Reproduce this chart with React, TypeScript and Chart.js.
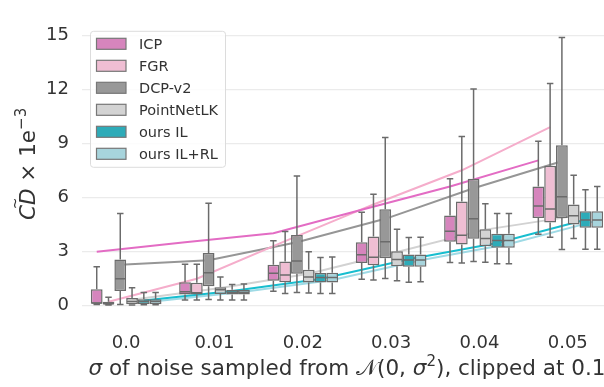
import React, { useEffect, useRef } from 'react';
import { Chart, registerables } from 'chart.js';

Chart.register(...registerables);

// ---------- data ----------
const GROUP_LABELS = ['0.0', '0.01', '0.02', '0.03', '0.04', '0.05'];
const METHODS = ['ICP', 'FGR', 'DCP-v2', 'PointNetLK', 'ours IL', 'ours IL+RL'];
const Y_TICKS = [0, 3, 6, 9, 12, 15];

// box stats per noise level: [whisker low, q1, median, q3, whisker high]
const ICP_BOX = [
  [0.03, 0.08, 0.12, 0.88, 2.13],
  [0.28, 0.59, 0.74, 1.27, 2.27],
  [0.77, 1.36, 1.77, 2.24, 3.58],
  [1.44, 2.34, 2.8, 3.49, 5.17],
  [2.37, 3.52, 4.11, 4.98, 7.03],
  [3.94, 4.84, 5.51, 6.6, 9.12],
];
const FGR_BOX = [
  [0.01, 0.03, 0.08, 0.19, 0.43],
  [0.28, 0.59, 0.69, 1.24, 2.27],
  [0.65, 1.27, 1.67, 2.42, 4.1],
  [1.39, 2.22, 2.66, 3.81, 6.17],
  [2.34, 3.37, 3.88, 5.77, 9.38],
  [3.78, 4.6, 5.34, 7.75, 12.33],
];
const DCP_BOX = [
  [0.04, 0.79, 1.46, 2.54, 5.1],
  [0.31, 1.05, 1.8, 2.9, 5.67],
  [0.7, 1.74, 2.46, 3.9, 7.18],
  [1.48, 2.6, 3.52, 5.33, 9.33],
  [2.42, 3.69, 4.81, 7.03, 12.02],
  [3.09, 4.84, 6.03, 8.9, 14.89],
];
const PNLK_BOX = [
  [0.01, 0.05, 0.2, 0.4, 0.96],
  [0.28, 0.62, 0.85, 1.0, 1.57],
  [0.67, 1.26, 1.57, 1.96, 2.97],
  [1.36, 2.16, 2.54, 2.99, 4.22],
  [2.39, 3.28, 3.71, 4.22, 5.64],
  [3.71, 4.48, 4.97, 5.6, 7.23],
];
const IL_BOX = [
  [0.02, 0.05, 0.2, 0.33, 0.7],
  [0.28, 0.59, 0.72, 0.86, 1.15],
  [0.65, 1.26, 1.53, 1.79, 2.65],
  [1.27, 2.13, 2.51, 2.82, 3.76],
  [2.3, 3.19, 3.59, 3.97, 5.1],
  [3.11, 4.31, 4.74, 5.22, 6.42],
];
const ILRL_BOX = [
  [0.02, 0.05, 0.2, 0.33, 0.7],
  [0.28, 0.59, 0.72, 0.86, 1.17],
  [0.65, 1.26, 1.53, 1.8, 2.68],
  [1.3, 2.13, 2.51, 2.82, 3.78],
  [2.3, 3.19, 3.59, 3.97, 5.1],
  [3.11, 4.31, 4.74, 5.22, 6.6],
];

// mean per noise level (trend lines)
const ICP_MEAN = [2.97, 3.5, 4.0, 5.3, 6.6, 8.05];
const FGR_MEAN = [0.19, 1.47, 3.56, 5.6, 7.5, 9.9];
const DCP_MEAN = [2.24, 2.5, 3.5, 4.8, 6.5, 8.0];
const PNLK_MEAN = [0.3, 0.95, 1.75, 2.95, 4.2, 4.95];
const IL_MEAN = [0.25, 0.78, 1.45, 2.55, 3.45, 4.75];
const ILRL_MEAN = [0.22, 0.74, 1.4, 2.5, 3.4, 4.7];

// ---------- styles ----------
const BOX_COLORS = ['#d685bd', '#efbed3', '#989898', '#d3d3d3', '#2eabb8', '#a7d4dc'];
const LINE_COLORS = ['#e36cc4', '#f5adcb', '#969696', '#d2d2d2', '#17becf', '#9edae5'];
const EDGE = '#6b6b6b';
const TEXT = '#333333';
const FONT = '"DejaVu Sans", sans-serif';
const TITLE_SIZE = 21.5;

type Seg = { t: string; italic?: boolean; sup?: boolean };

function drawRich(ctx: CanvasRenderingContext2D, segs: Seg[], cx: number, cy: number, size: number) {
  const fontOf = (s: Seg) => `${s.italic ? 'italic ' : ''}${s.sup ? size * 0.7 : size}px ${FONT}`;
  let total = 0;
  const widths = segs.map((s) => {
    ctx.font = fontOf(s);
    const w = ctx.measureText(s.t).width;
    total += w;
    return w;
  });
  let x = cx - total / 2;
  const base = cy + size * 0.36;
  ctx.textAlign = 'left';
  ctx.textBaseline = 'alphabetic';
  segs.forEach((s, i) => {
    ctx.font = fontOf(s);
    ctx.fillText(s.t, x, s.sup ? base - size * 0.42 : base);
    x += widths[i];
  });
  return { left: cx - total / 2, widths };
}

const titlesPlugin = {
  id: 'richTitles',
  afterDraw(chart: any) {
    const ctx: CanvasRenderingContext2D = chart.ctx;
    const xs = chart.scales.x;
    const ca = chart.chartArea;
    ctx.save();
    ctx.fillStyle = TEXT;
    drawRich(
      ctx,
      [
        { t: 'σ', italic: true },
        { t: ' of noise sampled from ' },
        { t: '𝒩' },
        { t: '(0, ' },
        { t: 'σ', italic: true },
        { t: '2', sup: true },
        { t: '), clipped at 0.1' },
      ],
      xs.getPixelForValue(2.5),
      367,
      TITLE_SIZE
    );
    ctx.translate(27, (ca.top + ca.bottom) / 2 - 9);
    ctx.rotate(-Math.PI / 2);
    const r = drawRich(
      ctx,
      [
        { t: 'C', italic: true },
        { t: 'D', italic: true },
        { t: ' × 1e' },
        { t: '−3', sup: true },
      ],
      0,
      0,
      TITLE_SIZE
    );
    const cdW = r.widths[0] + r.widths[1];
    ctx.font = `14px ${FONT}`;
    ctx.textAlign = 'center';
    ctx.fillText('~', r.left + cdW / 2 + 1, TITLE_SIZE * 0.36 - 15);
    ctx.restore();
  },
};

const legendPlugin = {
  id: 'boxLegend',
  afterDraw(chart: any) {
    const ctx: CanvasRenderingContext2D = chart.ctx;
    const ca = chart.chartArea;
    const bars = chart.data.datasets.filter((d: any) => d.type === 'bar');
    const x0 = ca.left + 8.5;
    const y0 = ca.top + 7.5;
    const w = 135;
    const rowH = 22;
    const h = bars.length * rowH + 4;
    ctx.save();
    ctx.beginPath();
    (ctx as any).roundRect(x0, y0, w, h, 3);
    ctx.fillStyle = 'rgba(255,255,255,0.85)';
    ctx.fill();
    ctx.strokeStyle = '#dcdcdc';
    ctx.lineWidth = 1;
    ctx.stroke();
    bars.forEach((d: any, i: number) => {
      const cy = y0 + 12.5 + i * rowH;
      ctx.fillStyle = d.backgroundColor;
      ctx.fillRect(x0 + 6, cy - 5.5, 29.5, 11);
      ctx.strokeStyle = '#777777';
      ctx.lineWidth = 1.2;
      ctx.strokeRect(x0 + 6, cy - 5.5, 29.5, 11);
      ctx.fillStyle = TEXT;
      ctx.font = `14.5px ${FONT}`;
      ctx.textAlign = 'left';
      ctx.textBaseline = 'middle';
      ctx.fillText(d.label, x0 + 48.5, cy + 1);
    });
    ctx.restore();
  },
};

const whiskerPlugin = {
  id: 'boxWhiskers',
  afterDatasetsDraw(chart: any) {
    const ctx: CanvasRenderingContext2D = chart.ctx;
    const ys = chart.scales.y;
    const ca = chart.chartArea;
    ctx.save();
    ctx.beginPath();
    ctx.rect(ca.left, ca.top, ca.right - ca.left, ca.bottom - ca.top);
    ctx.clip();
    ctx.strokeStyle = EDGE;
    ctx.lineWidth = 1.5;
    chart.data.datasets.forEach((ds: any, di: number) => {
      if (ds.type !== 'bar') return;
      const meta = chart.getDatasetMeta(di);
      meta.data.forEach((el: any, i: number) => {
        const { x, width } = el.getProps(['x', 'width'], true);
        const [lo, q1, med, q3, hi] = ds.boxStats[i];
        const cap = width * 0.55;
        const pLo = ys.getPixelForValue(lo);
        const pQ1 = ys.getPixelForValue(q1);
        const pMed = ys.getPixelForValue(med);
        const pQ3 = ys.getPixelForValue(q3);
        const pHi = ys.getPixelForValue(hi);
        ctx.beginPath();
        ctx.moveTo(x, pQ3);
        ctx.lineTo(x, pHi);
        ctx.moveTo(x - cap / 2, pHi);
        ctx.lineTo(x + cap / 2, pHi);
        ctx.moveTo(x, pQ1);
        ctx.lineTo(x, pLo);
        ctx.moveTo(x - cap / 2, pLo);
        ctx.lineTo(x + cap / 2, pLo);
        ctx.moveTo(x - width / 2 + 0.75, pMed);
        ctx.lineTo(x + width / 2 - 0.75, pMed);
        ctx.stroke();
      });
    });
    ctx.restore();
  },
};

export default function App() {
  const ref = useRef<HTMLCanvasElement>(null);

  useEffect(() => {
    if (!ref.current) return;
    const boxes = [ICP_BOX, FGR_BOX, DCP_BOX, PNLK_BOX, IL_BOX, ILRL_BOX];
    const means = [ICP_MEAN, FGR_MEAN, DCP_MEAN, PNLK_MEAN, IL_MEAN, ILRL_MEAN];
    const n = METHODS.length;
    const slot = 0.8 / n;

    const barSets = METHODS.map((m, k) => ({
      type: 'bar' as const,
      label: m,
      data: boxes[k].map((b, g) => ({ x: g, y: [b[1], b[3]] })),
      boxStats: boxes[k],
      backgroundColor: BOX_COLORS[k],
      borderColor: EDGE,
      borderWidth: 1.5,
      borderSkipped: false,
      barPercentage: 1,
      categoryPercentage: 0.8,
      order: 1,
    }));
    const lineSets = METHODS.map((m, k) => ({
      type: 'line' as const,
      label: m + ' mean',
      data: means[k].map((v, g) => ({ x: g + (k - (n - 1) / 2) * slot, y: v })),
      borderColor: LINE_COLORS[k],
      borderWidth: 2,
      pointRadius: 0,
      fill: false,
      tension: 0,
      order: 2,
    }));

    const chart = new Chart(ref.current, {
      type: 'bar',
      data: { datasets: [...barSets, ...lineSets] as any },
      options: {
        animation: false,
        responsive: false,
        devicePixelRatio: 1,
        layout: { padding: 0 },
        plugins: { legend: { display: false }, tooltip: { enabled: false } },
        scales: {
          x: {
            type: 'linear',
            offset: false,
            min: -0.5,
            max: 5.41,
            grid: { display: false, offset: false },
            border: { display: false },
            afterBuildTicks: (s: any) => {
              s.ticks = GROUP_LABELS.map((_, i) => ({ value: i }));
            },
            afterFit: (s: any) => {
              s.height = 65;
            },
            ticks: {
              color: TEXT,
              font: { family: FONT, size: 18 },
              padding: 3,
              maxRotation: 0,
              autoSkip: false,
              callback: (v: any) => GROUP_LABELS[Math.round(Number(v))] ?? '',
            },
          },
          y: {
            type: 'linear',
            min: -0.94,
            max: 15.65,
            grid: { color: '#ebebeb', lineWidth: 1.2, drawTicks: false },
            border: { display: false },
            afterBuildTicks: (s: any) => {
              s.ticks = Y_TICKS.map((v) => ({ value: v }));
            },
            afterFit: (s: any) => {
              s.width = 82;
            },
            ticks: {
              color: TEXT,
              font: { family: FONT, size: 18 },
              padding: 13,
            },
          },
        },
      } as any,
      plugins: [whiskerPlugin, legendPlugin, titlesPlugin],
    });
    return () => chart.destroy();
  }, []);

  return (
    <div style={{ position: 'absolute', left: 0, top: 0, width: 604, height: 387, background: '#fff' }}>
      <canvas ref={ref} width={604} height={387} style={{ display: 'block' }} />
    </div>
  );
}
